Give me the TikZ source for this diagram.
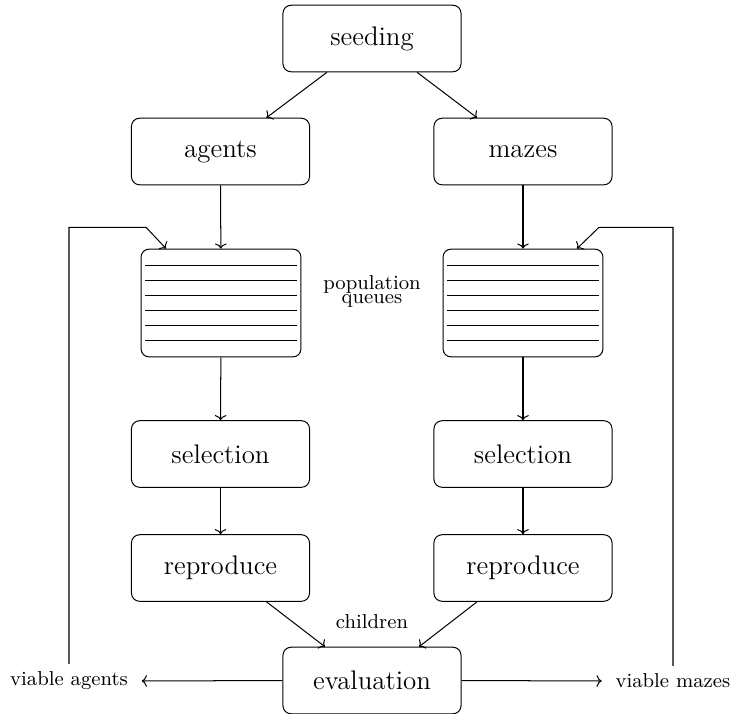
\documentclass[tikz,border=0pt]{standalone}
\usetikzlibrary{calc,arrows.meta}
\begin{document}
\begin{tikzpicture}[
  x=0.4464pt, y=-0.4464pt,
  >={To[width=5.2pt,length=2.3pt]},
  every path/.style={line width=0.45pt},
  stage/.style={draw, rounded corners=3.6pt, minimum width=79.5pt,
    minimum height=29.7pt, font=\large, inner sep=0pt},
  queue/.style={draw, rounded corners=3.6pt, minimum width=71.4pt,
    minimum height=48.1pt, inner sep=0pt,
    path picture={
      \foreach \k in {0,...,5}
        \draw ([xshift=1.8pt,yshift={-7.1pt-6.7pt*\k}]path picture bounding box.north west)
           -- ([xshift=-1.7pt,yshift={-7.1pt-6.7pt*\k}]path picture bounding box.north east);
    }},
  lab/.style={font=\small, inner xsep=6pt},
]
\useasboundingbox (0,0) rectangle (733,714);

% stages
\node[stage] (seed) at (372,38.5) {seeding};
\node[stage] (ag)   at (220.5,151.5) {agents};
\node[stage] (mz)   at (523,151.5) {mazes};
\node[queue] (qL)   at (221,303) {};
\node[queue] (qR)   at (523,303) {};
\node[stage] (selL) at (220.5,454) {selection};
\node[stage] (selR) at (523,454) {selection};
\node[stage] (repL) at (220.5,568) {reproduce};
\node[stage] (repR) at (523,568) {reproduce};
\node[stage] (eval) at (372,680.5) {evaluation};

% labels
\node[font=\small, align=center] (pop) at (372,291.5) {population\\[-4.6pt]queues};
\node[font=\small] (kids) at (372,621.7) {children};
\node[lab] (va) at (69,681) {viable agents};
\node[lab] (vm) at (673,681) {viable mazes};

% feedback corners
\coordinate (fbL) at (146,227.3);
\coordinate (fbR) at (599,227.3);

% connectors
\draw[->] ([xshift=-20.1pt]seed.south) -- ([xshift=20.5pt]ag.north);
\draw[->] ([xshift=20.1pt]seed.south) -- ([xshift=-20.5pt]mz.north);
\draw[->] (ag) -- (qL);
\draw[->] (mz) -- (qR);
\draw[->] (qL) -- (selL);
\draw[->] (qR) -- (selR);
\draw[->] (selL) -- (repL);
\draw[->] (selR) -- (repR);
\draw[->] ([xshift=20.5pt]repL.south) -- ([xshift=-21pt]eval.north);
\draw[->] ([xshift=-20.5pt]repR.south) -- ([xshift=21pt]eval.north);
\draw[->] (eval.west) -- (va.east);
\draw[->] (eval.east) -- (vm.west);
\draw[->] (va.north) |- (fbL) -- ([xshift=-24.5pt]qL.north);
\draw[->] (vm.north) |- (fbR) -- ([xshift=24.1pt]qR.north);
\end{tikzpicture}
\end{document}
